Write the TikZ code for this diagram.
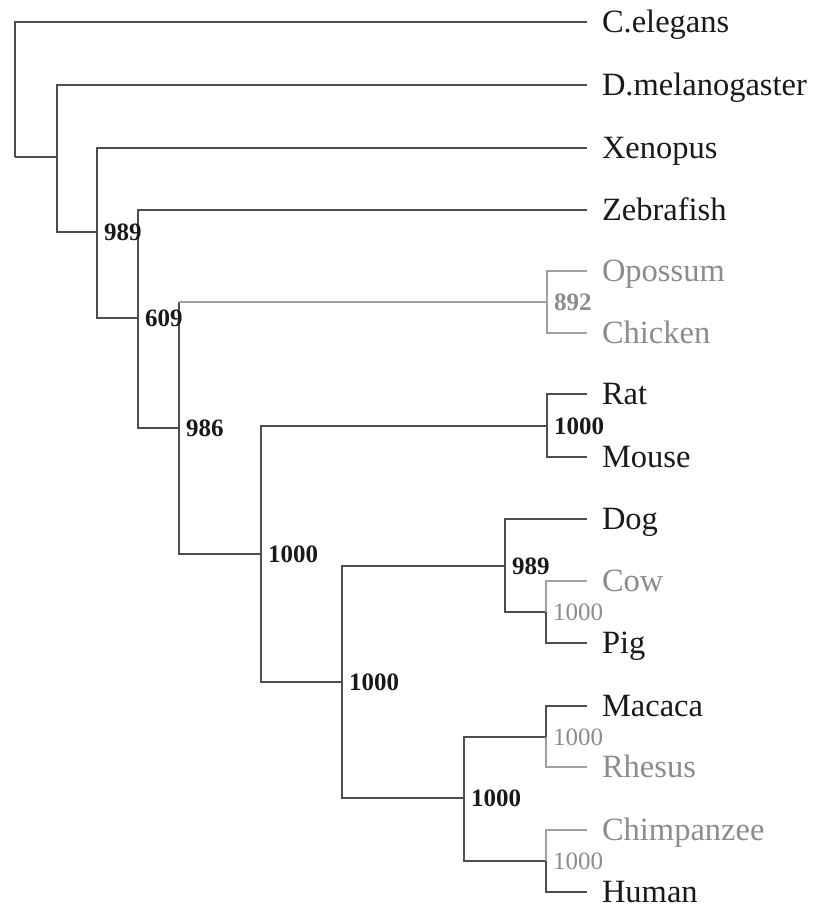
\documentclass[tikz,border=0pt]{standalone}
\usepackage{fontspec}
\setmainfont{Liberation Serif}
\usepackage{xcolor}
\usepackage{tikz}
\definecolor{treeline}{HTML}{4D4D4D}
\definecolor{lightline}{HTML}{A0A0A0}
\definecolor{lighttext}{HTML}{8C8C8C}

\begin{document}
\begin{tikzpicture}[x=1pt, y=-1pt,
    leaf/.style={anchor=west, inner sep=0pt, outer xsep=15pt, text height=21pt, text depth=0pt, font=\fontsize{32.5}{36}\selectfont, text=black!90},
    greyleaf/.style={leaf, text=lighttext},
    boot/.style={anchor=west, inner sep=0pt, xshift=7pt, font=\fontsize{25}{28}\selectfont\bfseries, text=black!90},
    greyboot/.style={boot, font=\fontsize{25}{28}\selectfont, text=lighttext},
    branch/.style={draw=treeline, line width=2pt},
    greybranch/.style={draw=lightline, line width=1.6pt}]
    \useasboundingbox (0,0) rectangle (816,908);

    % Define internal nodes
    \coordinate (root) at (15,157);
    \coordinate (n1) at (57,157);
    \coordinate (n2) at (97,232);
    \coordinate (n3) at (138,318);
    \coordinate (n4) at (179,428);
    \coordinate (n5) at (547,302);
    \coordinate (n6) at (261,554);
    \coordinate (n7) at (547,426);
    \coordinate (n8) at (342,682);
    \coordinate (n9) at (505,566);
    \coordinate (n10) at (464,798);
    \coordinate (n11) at (546,612);
    \coordinate (n12) at (546,737);
    \coordinate (n13) at (546,861);

    % Define leaves
    \node[leaf] (celegans) at (587,22) {C.elegans};
    \node[leaf] (dmel) at (587,85) {D.melanogaster};
    \node[leaf] (xenopus) at (587,148) {Xenopus};
    \node[leaf] (zebrafish) at (587,210) {Zebrafish};
    \node[greyleaf] (opossum) at (587,271) {Opossum};
    \node[greyleaf] (chicken) at (587,333) {Chicken};
    \node[leaf] (rat) at (587,394) {Rat};
    \node[leaf] (mouse) at (587,457) {Mouse};
    \node[leaf] (dog) at (587,519) {Dog};
    \node[greyleaf] (cow) at (587,581) {Cow};
    \node[leaf] (pig) at (587,643) {Pig};
    \node[leaf] (macaca) at (587,706) {Macaca};
    \node[greyleaf] (rhesus) at (587,767) {Rhesus};
    \node[greyleaf] (chimp) at (587,830) {Chimpanzee};
    \node[leaf] (human) at (587,892) {Human};

    % Define connections
    \draw[branch] (root) |- (celegans);
    \draw[branch] (root) |- (n1);
    \draw[branch] (n1) |- (dmel);
    \draw[branch] (n1) |- (n2);
    \draw[branch] (n2) |- (xenopus);
    \draw[branch] (n2) |- (n3);
    \draw[branch] (n3) |- (zebrafish);
    \draw[branch] (n3) |- (n4);
    \draw[branch] (n4) -- (n4 |- n5);
    \draw[greybranch] (n4 |- n5) -- (n5);
    \draw[branch] (n4) |- (n6);
    \draw[greybranch] (n5) |- (opossum);
    \draw[greybranch] (n5) |- (chicken);
    \draw[branch] (n6) |- (n7);
    \draw[branch] (n6) |- (n8);
    \draw[branch] (n7) |- (rat);
    \draw[branch] (n7) |- (mouse);
    \draw[branch] (n8) |- (n9);
    \draw[branch] (n8) |- (n10);
    \draw[branch] (n9) |- (dog);
    \draw[branch] (n9) |- (n11);
    \draw[greybranch] (n11) |- (cow);
    \draw[branch] (n11) |- (pig);
    \draw[branch] (n10) |- (n12);
    \draw[branch] (n10) |- (n13);
    \draw[branch] (n12) |- (macaca);
    \draw[greybranch] (n12) |- (rhesus);
    \draw[greybranch] (n13) |- (chimp);
    \draw[branch] (n13) |- (human);

    % Bootstrap values
    \node[boot] (b2) at (n2) {989};
    \node[boot] (b3) at (n3) {609};
    \node[boot] (b4) at (n4) {986};
    \node[boot, text=lighttext] (b5) at (n5) {892};
    \node[boot] (b6) at (n6) {1000};
    \node[boot] (b7) at (n7) {1000};
    \node[boot] (b8) at (n8) {1000};
    \node[boot] (b9) at (n9) {989};
    \node[boot] (b10) at (n10) {1000};
    \node[greyboot] (b11) at (n11) {1000};
    \node[greyboot] (b12) at (n12) {1000};
    \node[greyboot] (b13) at (n13) {1000};
\end{tikzpicture}
\end{document}
